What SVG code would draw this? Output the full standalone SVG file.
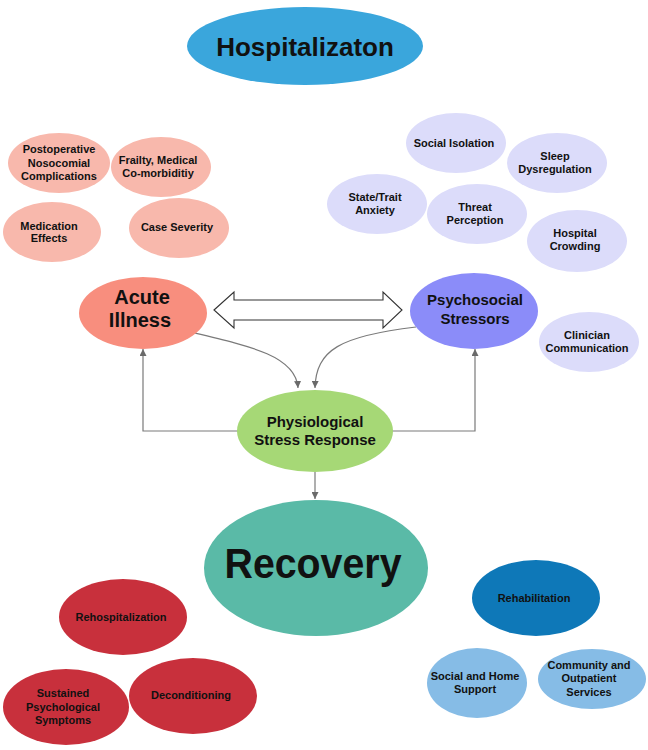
<svg xmlns="http://www.w3.org/2000/svg" width="648" height="750" viewBox="0 0 648 750">
<defs>
<style>
text{font-family:"Liberation Sans",Arial,sans-serif;font-weight:bold;fill:#111;text-anchor:middle}
.s11{font-size:11px}
.conn{fill:none;stroke:#7a7a7a;stroke-width:1.2}
.pink{fill:#f8b8ac}.lav{fill:#dcdcfa}.red{fill:#c8303c}.lb{fill:#86bce6}
</style>
<marker id="ah" viewBox="0 0 10 10" refX="10" refY="5" markerWidth="7" markerHeight="7" markerUnits="userSpaceOnUse" orient="auto">
<path d="M0,0 L10,5 L0,10 Z" fill="#6a6a6a"/>
</marker>
</defs>
<rect width="648" height="750" fill="#fff"/>
<g id="connectors">
<path class="conn" d="M190,332 C250,346 296,356 298,388" marker-end="url(#ah)"/>
<path class="conn" d="M416,327 C340,336 316,350 315,388" marker-end="url(#ah)"/>
<path class="conn" d="M238,431 L143,431 L143,349" marker-end="url(#ah)"/>
<path class="conn" d="M392,431 L475,431 L475,349" marker-end="url(#ah)"/>
<path class="conn" d="M315,472 L315,499" marker-end="url(#ah)"/>
<path d="M214,310 L234,292 L234,300 L383,300 L383,292 L402,310 L383,328 L383,320 L234,320 L234,328 Z" fill="#fff" stroke="#333" stroke-width="1.1" stroke-linejoin="miter"/>
</g>
<g id="hospitalization"><ellipse cx="305" cy="46" rx="118" ry="39" fill="#3aa6dc"/><text x="305" y="56" style="font-size:26px">Hospitalizaton</text></g>
<g id="postoperative"><ellipse class="pink" cx="59" cy="163" rx="51" ry="30"/><text class="s11" x="59" y="153">Postoperative</text><text class="s11" x="59" y="167">Nosocomial</text><text class="s11" x="59" y="180">Complications</text></g>
<g id="frailty"><ellipse class="pink" cx="161" cy="167" rx="50" ry="30"/><text class="s11" x="158" y="164">Frailty, Medical</text><text class="s11" x="158" y="177">Co-morbiditiy</text></g>
<g id="medication"><ellipse class="pink" cx="52" cy="232" rx="49" ry="30"/><text class="s11" x="49" y="230">Medication</text><text class="s11" x="49" y="242">Effects</text></g>
<g id="severity"><ellipse class="pink" cx="179" cy="228" rx="50" ry="30"/><text class="s11" x="177" y="231">Case Severity</text></g>
<g id="social-isolation"><ellipse class="lav" cx="456" cy="143" rx="50" ry="30"/><text class="s11" x="454" y="147">Social Isolation</text></g>
<g id="sleep"><ellipse class="lav" cx="557" cy="163" rx="50" ry="30"/><text class="s11" x="555" y="160">Sleep</text><text class="s11" x="555" y="173">Dysregulation</text></g>
<g id="anxiety"><ellipse class="lav" cx="377" cy="204" rx="50" ry="30"/><text class="s11" x="375" y="201">State/Trait</text><text class="s11" x="375" y="214">Anxiety</text></g>
<g id="threat"><ellipse class="lav" cx="477" cy="214" rx="50" ry="30"/><text class="s11" x="475" y="211">Threat</text><text class="s11" x="475" y="224">Perception</text></g>
<g id="crowding"><ellipse class="lav" cx="577" cy="241" rx="50" ry="31"/><text class="s11" x="575" y="237">Hospital</text><text class="s11" x="575" y="250">Crowding</text></g>
<g id="clinician"><ellipse class="lav" cx="589" cy="342" rx="50" ry="30"/><text class="s11" x="587" y="339">Clinician</text><text class="s11" x="587" y="352">Communication</text></g>
<g id="acute"><ellipse cx="143" cy="313" rx="64" ry="36" fill="#f88e7e"/><text x="142" y="304" style="font-size:20px">Acute</text><text x="140" y="327" style="font-size:20px">Illness</text></g>
<g id="psychosocial"><ellipse cx="474" cy="311" rx="64" ry="38" fill="#8b8cf9"/><text x="475" y="305" style="font-size:15px">Psychosocial</text><text x="475" y="324" style="font-size:15px">Stressors</text></g>
<g id="physiological"><ellipse cx="315" cy="431" rx="78" ry="41" fill="#a6d876"/><text x="315" y="427" style="font-size:15px">Physiological</text><text x="315" y="445" style="font-size:15px">Stress Response</text></g>
<g id="recovery"><ellipse cx="316" cy="568" rx="112" ry="68" fill="#5abaa7"/><text x="313" y="578" style="font-size:42px" textLength="177" lengthAdjust="spacingAndGlyphs">Recovery</text></g>
<g id="rehospitalization"><ellipse class="red" cx="123" cy="617" rx="64" ry="38"/><text class="s11" x="121" y="621">Rehospitalization</text></g>
<g id="sustained"><ellipse class="red" cx="66" cy="707" rx="63" ry="38"/><text class="s11" x="63" y="697">Sustained</text><text class="s11" x="63" y="711">Psychological</text><text class="s11" x="63" y="724">Symptoms</text></g>
<g id="deconditioning"><ellipse class="red" cx="193" cy="696" rx="64" ry="38"/><text class="s11" x="191" y="699">Deconditioning</text></g>
<g id="rehabilitation"><ellipse cx="536" cy="598" rx="64" ry="38" fill="#0e78b8"/><text class="s11" x="534" y="602">Rehabilitation</text></g>
<g id="social-home"><ellipse class="lb" cx="477" cy="683" rx="50" ry="35"/><text class="s11" x="475" y="680">Social and Home</text><text class="s11" x="475" y="693">Support</text></g>
<g id="community"><ellipse class="lb" cx="592" cy="679" rx="54" ry="30"/><text class="s11" x="589" y="669">Community and</text><text class="s11" x="589" y="682">Outpatient</text><text class="s11" x="589" y="696">Services</text></g>
</svg>
